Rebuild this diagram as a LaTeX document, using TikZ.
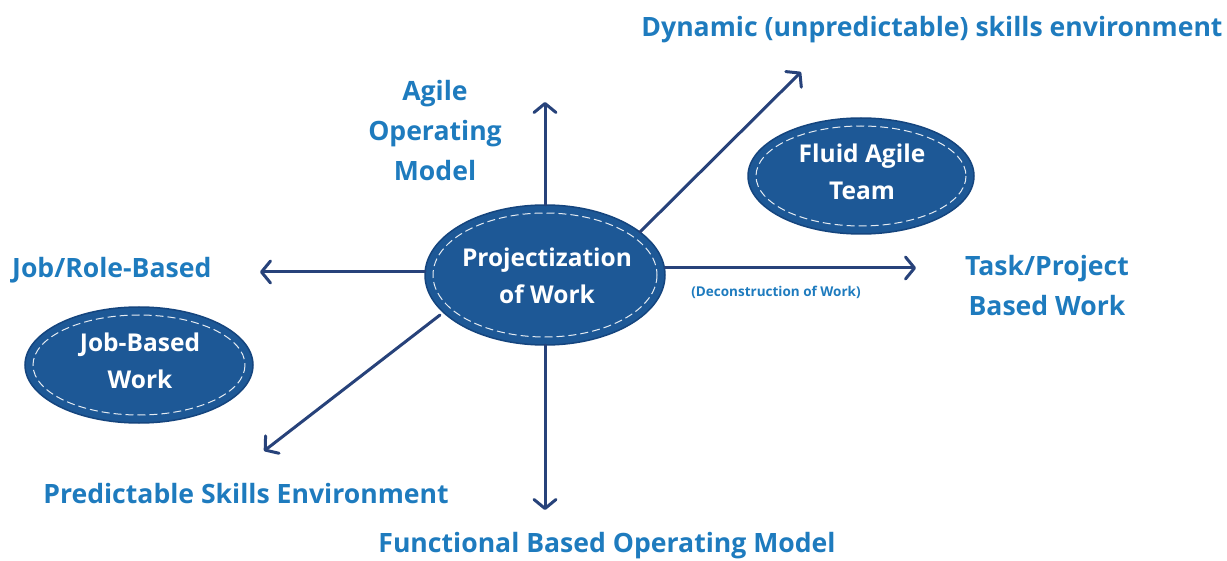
\documentclass[tikz,border=0pt]{standalone}
\usepackage{fontspec}
\setmainfont{Open Sans}
\usetikzlibrary{arrows.meta}
\definecolor{labelblue}{HTML}{1E7BBE}
\definecolor{arrownavy}{HTML}{27427A}
\definecolor{ovalfill}{HTML}{1D5896}
\definecolor{ovalrim}{HTML}{15457E}
\tikzset{
  label/.style={text=labelblue, font=\bfseries\fontsize{26.6}{40}\selectfont, align=center, inner sep=0pt},
  ovaltext/.style={text=white, font=\bfseries\fontsize{24.5}{37}\selectfont, align=center, inner sep=0pt},
  rim/.style={draw=ovalrim, line width=1.5pt},
  stitch/.style={draw=white!88!ovalfill, dash pattern=on 8pt off 4pt, line width=1pt},
  link/.style={draw=arrownavy, line width=3pt, line cap=round,
    -{Straight Barb[length=9pt,width=22pt,round]}},
}
\begin{document}
\begin{tikzpicture}[x=1pt,y=-1pt]
\useasboundingbox (0,0) rectangle (1227,561);

% central oval and the two side ovals
\fill[ovalfill] (545,275) ellipse [x radius=120, y radius=70];
\draw[rim] (545,275) ellipse [x radius=120, y radius=70];
\draw[stitch] (545,275) ellipse [x radius=112, y radius=62];
\node[ovaltext] (core) at (547,276) {Projectization\\of Work};

\fill[ovalfill] (861,176) ellipse [x radius=113, y radius=58];
\draw[rim] (861,176) ellipse [x radius=113, y radius=58];
\draw[stitch] (861,176) ellipse [x radius=105, y radius=50];
\node[ovaltext] (fluid) at (862,172) {Fluid Agile\\Team};

\fill[ovalfill] (139,365) ellipse [x radius=114, y radius=58];
\draw[rim] (139,365) ellipse [x radius=114, y radius=58];
\draw[stitch] (139,365) ellipse [x radius=106, y radius=50];
\node[ovaltext] (jobwork) at (140,361) {Job-Based\\Work};

% arrow ends
\coordinate (cN) at (545,205);
\coordinate (cS) at (545,345);
\coordinate (cW) at (425,272);
\coordinate (cE) at (665,268);
\coordinate (cNE) at (640,232);
\coordinate (cSW) at (440,315);
\coordinate (tN) at (545,102);
\coordinate (tS) at (545,510);
\coordinate (tW) at (260,272);
\coordinate (tE) at (916,268);
\coordinate (tNE) at (801,72);
\coordinate (tSW) at (264,451);

\draw[link] (cN) -- (tN);
\draw[link] (cS) -- (tS);
\draw[link] (cW) -- (tW);
\draw[link] (cE) -- (tE);
\draw[link] (cNE) -- (tNE);
\draw[link] (cSW) -- (tSW);

% axis labels
\node[label] (agile) at (435,131) {Agile\\Operating\\Model};
\node[label] (dynamic) at (932,30) {Dynamic (unpredictable) skills environment};
\node[label, anchor=west] (jobrole) at (12,270) {Job/Role-Based};
\node[label] (task) at (1047,286) {Task/Project\\Based Work};
\node[label, font=\bfseries\fontsize{13.5}{15}\selectfont] (decon) at (776,292) {(Deconstruction of Work)};
\node[label] (predict) at (246,494) {Predictable Skills Environment};
\node[label] (functional) at (607,546) {Functional Based Operating Model};
\end{tikzpicture}
\end{document}
